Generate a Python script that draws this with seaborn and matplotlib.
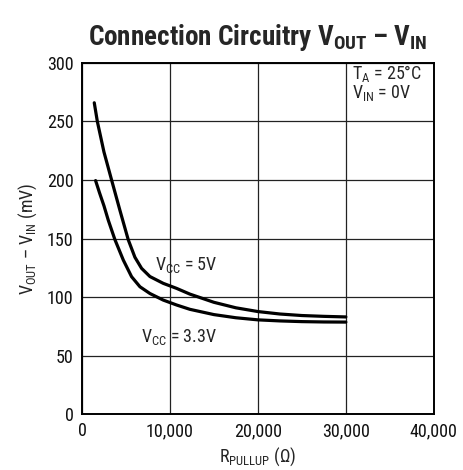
import pandas as pd
import matplotlib.pyplot as plt
import seaborn as sns

# Данные
r_5v = [1400, 1750, 2500, 3370, 4320, 5260, 6020, 6780, 7730, 9240, 10760, 12270,
        15000, 17500, 20000, 22500, 25000, 27500, 30000]
v_5v = [266, 250, 224, 200, 174, 149, 134, 124.5, 117.5, 111.7, 107.4, 102.5,
        95.5, 90.8, 87.6, 85.5, 84.2, 83.5, 83]

r_33v = [1550, 2000, 2500, 3000, 3750, 4700, 5640, 6590, 7730, 9240, 10760, 12270,
         15000, 17500, 20000, 22500, 25000, 27500, 30000]
v_33v = [199.5, 189, 178, 165.5, 149, 131.6, 117.4, 108.8, 103, 97.4, 93.2, 89.5,
         85, 82.3, 80.5, 79.6, 79, 78.7, 78.6]

x_ticks = [0, 10000, 20000, 30000, 40000]
x_tick_labels = ['0', '10,000', '20,000', '30,000', '40,000']
y_ticks = [0, 50, 100, 150, 200, 250, 300]

data = pd.concat([
    pd.DataFrame({'R': r_5v, 'V': v_5v, 'Vcc': '5V'}),
    pd.DataFrame({'R': r_33v, 'V': v_33v, 'Vcc': '3.3V'}),
])

sns.set_style('white')
font = 'Roboto Condensed'
plt.rcParams['font.family'] = [font, 'DejaVu Sans']
plt.rcParams['mathtext.fontset'] = 'custom'
plt.rcParams['mathtext.rm'] = font
plt.rcParams['mathtext.it'] = font
plt.rcParams['mathtext.bf'] = font + ':bold'

fig = plt.figure(figsize=(4.63, 4.70), dpi=100)
ax = fig.add_axes([0.177, 0.119, 0.760, 0.747])

sns.lineplot(data=data, x='R', y='V', hue='Vcc', palette=['black', 'black'],
             linewidth=2.3, legend=False, ax=ax, sort=False)

ax.set_xlim(0, 40000)
ax.set_ylim(0, 300)
ax.set_xticks(x_ticks)
ax.set_xticklabels(x_tick_labels)
ax.set_yticks(y_ticks)
ax.tick_params(length=0, labelsize=13, colors='#111111', pad=6)
ax.grid(True, color='#222222', linewidth=0.9)
for s in ax.spines.values():
    s.set_color('black')
    s.set_linewidth(1.4)

ax.set_xlabel(r'R$_{\mathrm{PULLUP}}$ (Ω)', fontsize=13, labelpad=4)
ax.set_ylabel(r'V$_{\mathrm{OUT}}$ – V$_{\mathrm{IN}}$ (mV)', fontsize=13, labelpad=6)
ax.set_title(r'Connection Circuitry V$_{\mathbf{OUT}}$ – V$_{\mathbf{IN}}$',
             fontsize=19.5, fontweight='bold', pad=13)

ax.text(8300, 127, r'V$_{\mathrm{CC}}$ = 5V', fontsize=13, va='center', ha='left')
ax.text(6700, 66, r'V$_{\mathrm{CC}}$ = 3.3V', fontsize=13, va='center', ha='left')
ax.text(30650, 291, r'T$_{\mathrm{A}}$ = 25°C', fontsize=13, va='center', ha='left')
ax.text(30650, 274, r'V$_{\mathrm{IN}}$ = 0V', fontsize=13, va='center', ha='left')

plt.savefig('out.png', dpi=100)
